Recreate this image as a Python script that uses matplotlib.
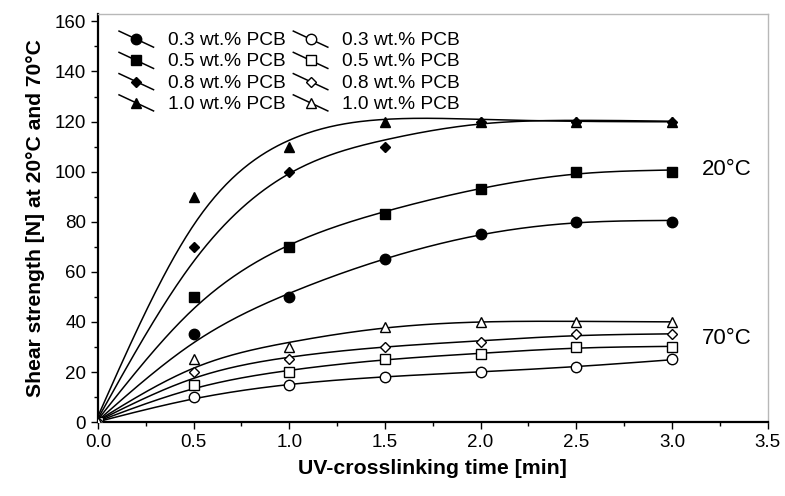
import numpy as np
import matplotlib
matplotlib.use("Agg")
import matplotlib.pyplot as plt
from matplotlib.lines import Line2D
from matplotlib.legend_handler import HandlerLine2D
from matplotlib.ticker import MultipleLocator

plt.rcParams['font.family'] = ['Liberation Sans', 'DejaVu Sans']

# ---------- data ----------
time_min = [0.0, 0.5, 1.0, 1.5, 2.0, 2.5, 3.0]
labels = ["0.3 wt.% PCB", "0.5 wt.% PCB", "0.8 wt.% PCB", "1.0 wt.% PCB"]
markers = ['o', 's', 'D', '^']
marker_sizes = [7.5, 6.5, 5.5, 7]

# 20 °C
s20_03 = [0, 35, 50, 65, 75, 80, 80]
s20_05 = [0, 50, 70, 83, 93, 100, 100]
s20_08 = [0, 70, 100, 110, 120, 120, 120]
s20_10 = [0, 90, 110, 120, 120, 120, 120]

# 70 °C
s70_03 = [0, 10, 15, 18, 20, 22, 25]
s70_05 = [0, 15, 20, 25, 27, 30, 30]
s70_08 = [0, 20, 25, 30, 32, 35, 35]
s70_10 = [0, 25, 30, 38, 40, 40, 40]

series_20 = [s20_03, s20_05, s20_08, s20_10]
series_70 = [s70_03, s70_05, s70_08, s70_10]

SMOOTH = 0.015


def smooth_curve(x, y, lam=SMOOTH, step=0.01):
    # penalised (smoothing-spline like) curve through the points
    xs = np.arange(0, x.max() + step / 2, step)
    n = len(xs)
    idx = np.rint(x / step).astype(int)
    W = np.zeros(n)
    W[idx] = 1.0
    W[idx[0]] = 3.0   # keep the start close to the origin
    rhs = np.zeros(n)
    rhs[idx] = W[idx] * y
    D = np.zeros((n - 2, n))
    for i in range(n - 2):
        D[i, i:i + 3] = [1, -2, 1]
    D /= step ** 2
    A = np.diag(W) + lam * step * D.T @ D
    return xs, np.linalg.solve(A, rhs)


class SlantHandler(HandlerLine2D):
    """legend handle with a falling line and the marker in the middle"""
    def create_artists(self, legend, orig_handle, xdescent, ydescent,
                       width, height, fontsize, trans):
        x0, x1 = -xdescent, -xdescent + width
        y0, y1 = -ydescent + height * 1.05, -ydescent - height * 0.15
        ln = Line2D([x0, x1], [y0, y1], color='black', lw=1.1, transform=trans)
        mk = Line2D([(x0 + x1) / 2], [(y0 + y1) / 2], linestyle='none',
                    marker=orig_handle.get_marker(),
                    markersize=orig_handle.get_markersize(),
                    markerfacecolor=orig_handle.get_markerfacecolor(),
                    markeredgecolor='black', markeredgewidth=1.0,
                    transform=trans)
        return [ln, mk]


fig = plt.figure(figsize=(7.85, 4.96), dpi=100)
ax = fig.add_axes([0.1248, 0.149, 0.853, 0.823])

x = np.array(time_min, dtype=float)

handles = []
for group, face in ((series_20, 'black'), (series_70, 'white')):
    for vals, m, ms, lab in zip(group, markers, marker_sizes, labels):
        y = np.array(vals, dtype=float)
        xs, ys = smooth_curve(x, y)
        ax.plot(xs, ys, color='black', lw=1.1, zorder=2)
        h, = ax.plot(x, y, linestyle='none', marker=m, markersize=ms,
                     markerfacecolor=face, markeredgecolor='black',
                     markeredgewidth=1.0, zorder=3, label=lab)
        handles.append(h)

ax.set_xlim(0, 3.5)
ax.set_ylim(0, 163)
ax.xaxis.set_major_locator(MultipleLocator(0.5))
ax.xaxis.set_minor_locator(MultipleLocator(0.25))
ax.yaxis.set_major_locator(MultipleLocator(20))
ax.yaxis.set_minor_locator(MultipleLocator(10))
ax.xaxis.set_major_formatter(plt.FormatStrFormatter('%.1f'))
ax.tick_params(which='both', direction='out', width=1.0, labelsize=13.5,
               top=False, right=False, colors='black')
ax.tick_params(which='major', length=5)
ax.tick_params(which='minor', length=3)

for side in ('left', 'bottom'):
    ax.spines[side].set_linewidth(1.6)
    ax.spines[side].set_color('black')
for side in ('top', 'right'):
    ax.spines[side].set_linewidth(1.0)
    ax.spines[side].set_color('#b8b8b8')

ax.set_xlabel("UV-crosslinking time [min]", fontsize=15.3, fontweight='bold', labelpad=6)
ax.set_ylabel("Shear strength [N] at 20°C and 70°C", fontsize=15.2, fontweight='bold', labelpad=7)

ax.text(3.155, 101, "20°C", fontsize=16, va='center', ha='left')
ax.text(3.155, 33.5, "70°C", fontsize=16, va='center', ha='left')

ax.legend(handles=handles, ncol=2, loc='upper left', frameon=False,
          fontsize=13.8, handlelength=1.8, handletextpad=0.75,
          columnspacing=0.4, labelspacing=0.2, borderaxespad=0.0,
          bbox_to_anchor=(0.02, 0.975),
          handler_map={Line2D: SlantHandler()})

fig.savefig("out.png", dpi=100)
